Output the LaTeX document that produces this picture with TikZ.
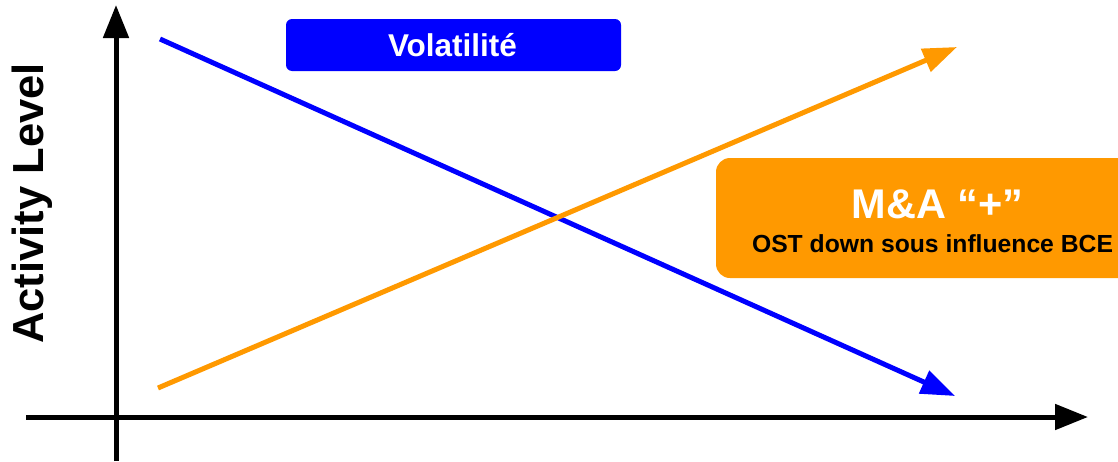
\documentclass[tikz,border=0pt]{standalone}
\usepackage{fontspec}
\setmainfont{Liberation Sans}
\usetikzlibrary{arrows.meta}
\definecolor{myblue}{HTML}{0000FF}
\definecolor{myorange}{HTML}{FF9900}
\begin{document}
\begin{tikzpicture}[x=1pt,y=-1pt,
  axis/.style={line width=5pt, -{Triangle[length=33pt,width=25pt]}},
  trend/.style={line width=5pt, -{Triangle[length=34pt,width=24pt]}},
  labelbox/.style={rounded corners=#1, inner sep=0pt, draw=none},
  boldtext/.style={inner sep=0pt, font=\bfseries\fontsize{#1}{#1}\selectfont}
]
\useasboundingbox (0,0) rectangle (1118,461);
\clip (0,0) rectangle (1118,461);
% boxes
\node[labelbox=6pt, fill=myblue, minimum width=335pt, minimum height=52pt] (vol) at (453.5,45) {};
\node[boldtext=31.5, white, anchor=base] (voltext) at (452.5,56) {Volatilité};
\node[labelbox=14pt, fill=myorange, minimum width=440pt, minimum height=120pt] (ma) at (936,218) {};
\node[boldtext=41.5, white, anchor=base] (matext) at (937.5,218) {M\&A “+”};
\node[boldtext=24.7, black, anchor=base] (ost) at (932.5,252) {OST down sous influence BCE};
% axis label
\node[boldtext=43.5, rotate=90, anchor=base] (ylab) at (43,203.5) {Activity Level};
% axes
\coordinate (yb) at (116,461);
\coordinate (yt) at (116,5);
\coordinate (xl) at (26,417);
\coordinate (xr) at (1088,417);
\draw[axis] (yb) -- (yt);
\draw[axis] (xl) -- (xr);
% trend lines
\coordinate (bs) at (160,39);
\coordinate (be) at (955,396);
\coordinate (os) at (158,388);
\coordinate (oe) at (957,47);
\draw[trend, myblue] (bs) -- (be);
\draw[trend, myorange] (os) -- (oe);
\end{tikzpicture}
\end{document}
